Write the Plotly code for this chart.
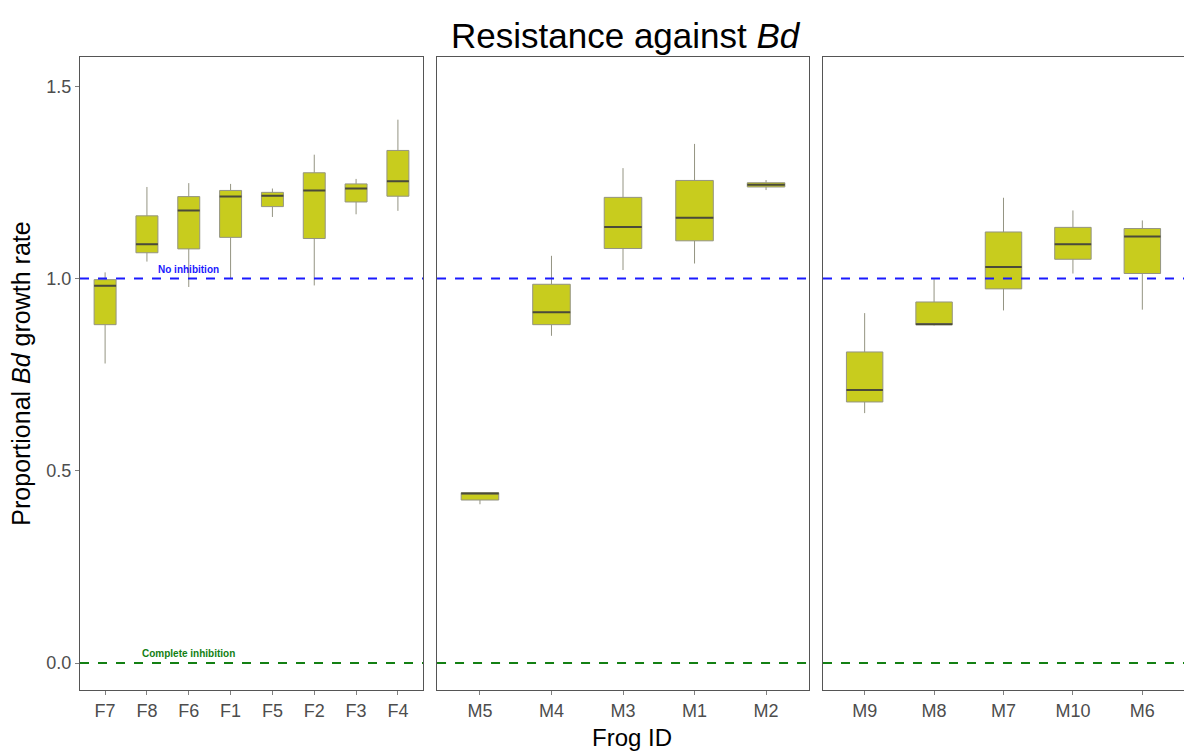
import plotly.graph_objects as go

# ---- data ----
female_ids = ["F7", "F8", "F6", "F1", "F5", "F2", "F3", "F4"]
female_lower = [0.779, 1.044, 0.978, 1.000, 1.160, 0.982, 1.167, 1.176]
female_q1 = [0.880, 1.067, 1.077, 1.107, 1.187, 1.104, 1.199, 1.214]
female_med = [0.981, 1.089, 1.177, 1.213, 1.215, 1.229, 1.234, 1.253]
female_q3 = [0.997, 1.163, 1.213, 1.229, 1.224, 1.275, 1.246, 1.333]
female_upper = [1.016, 1.238, 1.248, 1.246, 1.234, 1.322, 1.259, 1.413]

male_a_ids = ["M5", "M4", "M3", "M1", "M2"]
male_a_lower = [0.413, 0.851, 1.022, 1.039, 1.230]
male_a_q1 = [0.424, 0.880, 1.078, 1.098, 1.238]
male_a_med = [0.441, 0.912, 1.134, 1.158, 1.244]
male_a_q3 = [0.443, 0.985, 1.211, 1.255, 1.249]
male_a_upper = [0.443, 1.059, 1.287, 1.350, 1.256]

male_b_ids = ["M9", "M8", "M7", "M10", "M6"]
male_b_lower = [0.650, 0.878, 0.917, 1.013, 0.919]
male_b_q1 = [0.679, 0.880, 0.973, 1.050, 1.013]
male_b_med = [0.710, 0.881, 1.030, 1.089, 1.109]
male_b_q3 = [0.809, 0.939, 1.121, 1.133, 1.130]
male_b_upper = [0.910, 0.998, 1.210, 1.177, 1.151]

y_ticks = [0.0, 0.5, 1.0, 1.5]
y_tick_labels = ["0.0", "0.5", "1.0", "1.5"]
no_inhibition = 1.0
complete_inhibition = 0.0

# ---- styles ----
FONT = "Liberation Sans, Arial, sans-serif"
BOX_FILL = "#C8CC1E"
BOX_LINE = "#949482"
MED_LINE = "#4a4a3a"
TICK_COL = "#4d4d4d"
FRAME = "#555555"

panels = [
    ("x", "y", female_ids, female_lower, female_q1, female_med, female_q3, female_upper),
    ("x2", "y2", male_a_ids, male_a_lower, male_a_q1, male_a_med, male_a_q3, male_a_upper),
    ("x3", "y3", male_b_ids, male_b_lower, male_b_q1, male_b_med, male_b_q3, male_b_upper),
]

fig = go.Figure()
for xa, ya, ids, lo, q1, med, q3, up in panels:
    fig.add_trace(go.Box(
        x=ids, q1=q1, median=med, q3=q3, lowerfence=lo, upperfence=up,
        xaxis=xa, yaxis=ya, fillcolor=BOX_FILL,
        line=dict(color=BOX_LINE, width=1), whiskerwidth=0,
        showlegend=False, hoverinfo="skip",
    ))
    # dark median line drawn as a degenerate box at the median
    fig.add_trace(go.Box(
        x=ids, q1=med, median=med, q3=med, lowerfence=med, upperfence=med,
        xaxis=xa, yaxis=ya, fillcolor="rgba(0,0,0,0)",
        line=dict(color=MED_LINE, width=2), whiskerwidth=0,
        showlegend=False, hoverinfo="skip",
    ))

domains = [[0.0, 0.3107], [0.3234, 0.6603], [0.673, 1.0]]
y_range = [-0.07, 1.576]

layout = dict(
    width=1184, height=751,
    paper_bgcolor="white", plot_bgcolor="white",
    margin=dict(l=80, r=0, t=57, b=61),
    boxmode="overlay", boxgap=0.25,
    font=dict(family=FONT),
    title=dict(text="Resistance against <i>Bd</i>", x=0.528, xanchor="center",
               y=0.953, yanchor="middle", font=dict(size=35, color="black", family=FONT)),
    showlegend=False,
)

for i, (xa, ya, ids, *_rest) in enumerate(panels):
    xkey = "xaxis" if i == 0 else f"xaxis{i+1}"
    ykey = "yaxis" if i == 0 else f"yaxis{i+1}"
    layout[xkey] = dict(
        domain=domains[i], anchor=ya, type="category",
        categoryorder="array", categoryarray=ids,
        range=[-0.6, len(ids) - 1 + 0.6],
        showline=True, linecolor=FRAME, linewidth=1, mirror=True,
        showgrid=False, zeroline=False,
        ticks="outside", ticklen=4, tickcolor="#7f7f7f",
        tickfont=dict(size=18, color=TICK_COL, family=FONT),
    )
    layout[ykey] = dict(
        domain=[0, 1], anchor=xa, range=y_range,
        showline=True, linecolor=FRAME, linewidth=1, mirror=True,
        showgrid=False, zeroline=False,
        tickvals=y_ticks, ticktext=y_tick_labels,
        ticks="outside" if i == 0 else "", ticklen=4, tickcolor="#7f7f7f",
        showticklabels=(i == 0),
        tickfont=dict(size=18, color=TICK_COL, family=FONT),
    )
    if i > 0:
        layout[ykey]["matches"] = "y"

layout["yaxis"]["title"] = dict(text="Proportional <i>Bd</i> growth rate",
                                font=dict(size=25, color="black", family=FONT), standoff=8)
fig.update_layout(**layout)

shapes = []
for xa, ya, *_rest in panels:
    shapes.append(dict(type="line", xref=f"{xa} domain", yref=ya, x0=0, x1=1,
                       y0=no_inhibition, y1=no_inhibition,
                       line=dict(color="#1a1aff", width=2, dash="dash")))
    shapes.append(dict(type="line", xref=f"{xa} domain", yref=ya, x0=0, x1=1,
                       y0=complete_inhibition, y1=complete_inhibition,
                       line=dict(color="#138013", width=2, dash="dash")))
fig.update_layout(shapes=shapes)

fig.add_annotation(x="F6", y=no_inhibition, xref="x", yref="y", text="<b>No inhibition</b>",
                   showarrow=False, yanchor="bottom", yshift=2,
                   font=dict(size=10, color="#1a1aff", family=FONT))
fig.add_annotation(x="F6", y=complete_inhibition, xref="x", yref="y", text="<b>Complete inhibition</b>",
                   showarrow=False, yanchor="bottom", yshift=2,
                   font=dict(size=10, color="#138013", family=FONT))
fig.add_annotation(x=0.5, y=-0.0758, xref="paper", yref="paper", text="Frog ID",
                   showarrow=False, yanchor="middle",
                   font=dict(size=24, color="black", family=FONT))

fig.write_html("out.html", config={"displayModeBar": False},
               post_script="document.body.style.margin='0';document.body.style.overflow='hidden';")
